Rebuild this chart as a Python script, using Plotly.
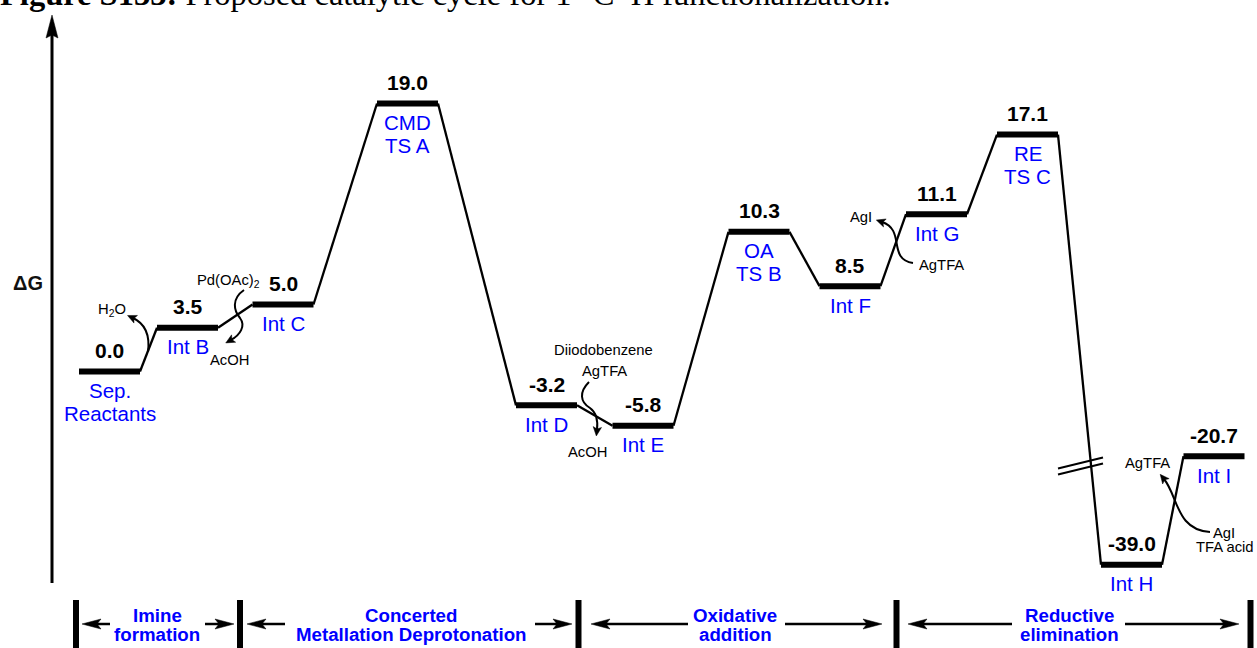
import math
import plotly.graph_objects as go

# ---------------- data ----------------
states = ["Sep.|Reactants", "Int B", "Int C", "CMD|TS A", "Int D", "Int E",
          "OA|TS B", "Int F", "Int G", "RE|TS C", "Int H", "Int I"]
energies = [0.0, 3.5, 5.0, 19.0, -3.2, -5.8, 10.3, 8.5, 11.1, 17.1, -39.0, -20.7]
# schematic heights at which the levels are drawn (diagram is not to scale)
diagram_levels = [0.0, 3.1, 4.75, 19.0, -2.4, -3.85, 9.9, 6.05, 11.15, 16.8, -13.7, -6.0]
phases = ["Imine|formation", "Concerted|Metallation Deprotonation",
          "Oxidative|addition", "Reductive|elimination"]
reagent_labels = ["H<sub>2</sub>O", "Pd(OAc)<sub>2</sub>", "AcOH", "Diiodobenzene", "AgTFA",
                  "AcOH", "AgI", "AgTFA", "AgTFA", "AgI", "TFA acid"]

# ---------------- layout (positions / styles) ----------------
W, H = 1257, 648
Y0, K = 371.5, 14.105            # pixel row of level 0 and px per unit
level_centers = [109.5, 187.5, 283, 407.5, 546.5, 643, 759, 850, 936.5, 1027.5, 1131.5, 1214]
level_width = 61
FONT = "Liberation Sans, Arial, Helvetica, sans-serif"
BLUE = "#0000ff"

def PX(x):
    return x / W

def PY(y):
    return 1 - y / H

fig = go.Figure()

# connectors
cx, cy = [], []
for i in range(len(states) - 1):
    cx += [level_centers[i] + level_width / 2, level_centers[i + 1] - level_width / 2, None]
    cy += [diagram_levels[i], diagram_levels[i + 1], None]
fig.add_trace(go.Scatter(x=cx, y=cy, mode="lines", line=dict(color="black", width=2.3),
                         hoverinfo="skip", showlegend=False))
# levels
lx, ly = [], []
for xc, lv in zip(level_centers, diagram_levels):
    lx += [xc - level_width / 2, xc + level_width / 2, None]
    ly += [lv, lv, None]
fig.add_trace(go.Scatter(x=lx, y=ly, mode="lines", line=dict(color="black", width=6),
                         hoverinfo="skip", showlegend=False))

ann = []
shapes = []
# energy values and names
for xc, lv, e, name in zip(level_centers, diagram_levels, energies, states):
    ann.append(dict(x=xc, y=lv, xref="x", yref="y", text=f"<b>{e:.1f}</b>", showarrow=False,
                    xanchor="center", yanchor="middle",
                    yshift=21, font=dict(family=FONT, size=21, color="black")))
    for j, line in enumerate(name.split("|")):
        ann.append(dict(x=xc, y=lv, xref="x", yref="y", text=line, showarrow=False,
                        xanchor="center", yanchor="middle",
                        yshift=-(19 + 22.5 * j), font=dict(family=FONT, size=20.5, color=BLUE)))

# reagent labels (pixel positions)
reagent_pos = [(112, 310), (228, 281), (229, 360), (603, 350), (604, 371),
               (587, 452), (861, 217), (941, 265), (1147, 463), (1224, 533), (1225, 547)]
for t, (x, y) in zip(reagent_labels, reagent_pos):
    ann.append(dict(x=PX(x), y=PY(y), xref="paper", yref="paper", text=t, showarrow=False,
                    xanchor="center", yanchor="middle",
                    font=dict(family=FONT, size=14.8, color="black")))

# title (cut off at top)
ann.append(dict(x=PX(-2), y=PY(-5.5), xref="paper", yref="paper", xanchor="left", yanchor="middle",
                text="<b>Figure S133:</b> Proposed catalytic cycle for 1° C–H functionalization.",
                showarrow=False, font=dict(family="Liberation Serif, Times New Roman, serif",
                                           size=32.5, color="black")))
# Delta G
ann.append(dict(x=PX(28), y=PY(283), xref="paper", yref="paper", text="<b>ΔG</b>", showarrow=False,
                xanchor="center", yanchor="middle",
                font=dict(family=FONT, size=20, color="#111111")))

# helpers for arrowheads
def head(tip, d, L=9, w=4.2, notch=2.0):
    n = math.hypot(*d)
    dx, dy = d[0] / n, d[1] / n
    px_, py_ = -dy, dx
    tx, ty = tip
    pts = [(tx, ty),
           (tx - L * dx + w * px_, ty - L * dy + w * py_),
           (tx - (L - notch) * dx, ty - (L - notch) * dy),
           (tx - L * dx - w * px_, ty - L * dy - w * py_)]
    path = "M " + " L ".join(f"{PX(a):.5f},{PY(b):.5f}" for a, b in pts) + " Z"
    return dict(type="path", xref="paper", yref="paper", path=path,
                fillcolor="black", line=dict(color="black", width=0.5))

def curve(pts, width=2):
    p = pts
    path = f"M {PX(p[0][0]):.5f},{PY(p[0][1]):.5f}"
    for k in range(1, len(p), 3):
        path += " C " + " ".join(f"{PX(a):.5f},{PY(b):.5f}" for a, b in p[k:k + 3])
    return dict(type="path", xref="paper", yref="paper", path=path,
                line=dict(color="black", width=width), fillcolor="rgba(0,0,0,0)")

def hline(x0, x1, y, width=2.5):
    return dict(type="line", xref="paper", yref="paper", x0=PX(x0), x1=PX(x1), y0=PY(y), y1=PY(y),
                line=dict(color="black", width=width))

# y axis arrow
shapes.append(dict(type="line", xref="paper", yref="paper", x0=PX(52), x1=PX(52), y0=PY(583), y1=PY(30),
                   line=dict(color="black", width=3)))
shapes.append(head((52, 15), (0, -1), L=23, w=6, notch=3))

# curved reagent arrows
curves = [
    [(148, 352), (150, 336), (146, 324), (133, 318)],
    [(244, 290), (231, 299), (234, 311), (240, 318), (246, 326), (240, 335), (231, 340)],
    [(589, 382), (579, 392), (580, 402), (590, 408), (597, 413), (598, 421), (597, 430)],
    [(913, 263), (887, 259), (906, 230), (882, 222)],
    [(1210, 532), (1176, 530), (1178, 496), (1164, 479)],
]
for c in curves:
    shapes.append(curve(c))
    d = (c[-1][0] - c[-2][0], c[-1][1] - c[-2][1])
    n = math.hypot(*d)
    tip = (c[-1][0] + 6 * d[0] / n, c[-1][1] + 6 * d[1] / n)
    shapes.append(head(tip, d))

# break mark
shapes.append(dict(type="line", xref="paper", yref="paper", x0=PX(1058), y0=PY(468.5), x1=PX(1103), y1=PY(457.5),
                   line=dict(color="black", width=2)))
shapes.append(dict(type="line", xref="paper", yref="paper", x0=PX(1058), y0=PY(474.5), x1=PX(1103), y1=PY(463.5),
                   line=dict(color="black", width=2)))

# phase strip
bar_x = [76, 240, 578.5, 896.5, 1250.5]
for bx in bar_x:
    shapes.append(dict(type="rect", xref="paper", yref="paper", x0=PX(bx - 3), x1=PX(bx + 3),
                       y0=PY(600), y1=PY(650), fillcolor="black", line=dict(width=0)))
ya = 624
arrows = [(110, 82), (205, 234), (285, 247), (535, 572), (688, 591), (785, 882), (1012, 908), (1125, 1239)]
for tail, tip in arrows:
    s = 1 if tip > tail else -1
    shapes.append(hline(tail, tip - s * 14, ya))
    shapes.append(head((tip, ya), (s, 0), L=19, w=5, notch=4))
phase_centers = [157, 411, 735, 1069]
for t, xc in zip(phases, phase_centers):
    for j, line in enumerate(t.split("|")):
        ann.append(dict(x=PX(xc), y=PY(615 + 19 * j), xref="paper", yref="paper", text=f"<b>{line}</b>",
                        xanchor="center", yanchor="middle",
                        showarrow=False, font=dict(family=FONT, size=18.7, color=BLUE)))

fig.update_layout(
    width=W, height=H, margin=dict(l=0, r=0, t=0, b=0),
    paper_bgcolor="white", plot_bgcolor="white",
    xaxis=dict(range=[0, W], visible=False, fixedrange=True),
    yaxis=dict(range=[(Y0 - H) / K, Y0 / K], visible=False, fixedrange=True),
    annotations=ann, shapes=shapes, showlegend=False,
)
fig.write_html("out.html", config={"displayModeBar": False},
               post_script="document.body.style.margin='0';document.body.style.overflow='hidden';")
